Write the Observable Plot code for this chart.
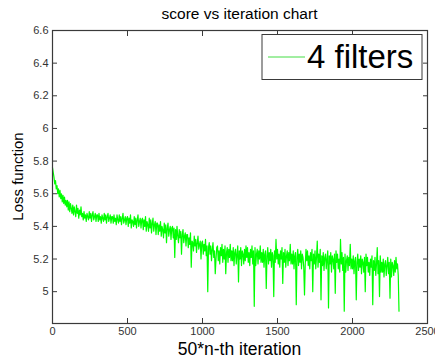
<!DOCTYPE html>
<html>
<head>
<meta charset="utf-8">
<script src="https://cdn.jsdelivr.net/npm/d3@7"></script>
<script src="https://cdn.jsdelivr.net/npm/@observablehq/plot@0.6"></script>
<style>
  html, body { margin: 0; padding: 0; background: #fff; }
  #chart { width: 435px; height: 363px; }
</style>
</head>
<body>
<div id="chart"></div>
<script>
// Loss values, one every 5 iterations
const lossValues = [
  5.76,5.73,5.70,5.66,5.68,5.63,5.65,5.60,5.63,5.58,5.62,5.57,5.60,5.55,5.59,5.54,5.58,5.53,5.56,5.52,
  5.56,5.50,5.55,5.49,5.54,5.51,5.48,5.53,5.47,5.52,5.49,5.46,5.53,5.48,5.51,5.45,5.50,5.47,5.52,5.46,
  5.48,5.44,5.49,5.45,5.47,5.43,5.48,5.46,5.44,5.49,5.45,5.48,5.43,5.47,5.49,5.44,5.46,5.48,5.43,5.47,
  5.47,5.43,5.48,5.44,5.46,5.42,5.47,5.45,5.43,5.48,5.44,5.47,5.42,5.46,5.48,5.43,5.45,5.47,5.42,5.46,
  5.46,5.42,5.47,5.43,5.45,5.41,5.47,5.44,5.42,5.47,5.43,5.46,5.41,5.45,5.48,5.42,5.44,5.46,5.41,5.45,
  5.46,5.40,5.45,5.42,5.47,5.39,5.44,5.43,5.40,5.46,5.41,5.45,5.39,5.44,5.47,5.40,5.43,5.45,5.39,5.44,
  5.45,5.38,5.44,5.40,5.46,5.37,5.43,5.41,5.37,5.45,5.39,5.44,5.36,5.42,5.45,5.37,5.41,5.43,5.35,5.42,
  5.42,5.35,5.41,5.37,5.43,5.34,5.40,5.38,5.33,5.42,5.36,5.41,5.30,5.39,5.42,5.34,5.38,5.40,5.32,5.39,
  5.40,5.33,5.39,5.21,5.38,5.32,5.40,5.34,5.30,5.38,5.33,5.37,5.23,5.35,5.38,5.30,5.34,5.36,5.28,5.35,
  5.35,5.27,5.33,5.29,5.36,5.15,5.31,5.30,5.25,5.34,5.28,5.32,5.24,5.30,5.34,5.26,5.29,5.31,5.20,5.30,
  5.31,5.23,5.29,5.25,5.32,5.22,5.28,5.00,5.27,5.30,5.23,5.28,5.19,5.26,5.30,5.21,5.25,5.11,5.20,5.27,
  5.28,5.19,5.25,5.17,5.27,5.22,5.29,5.18,5.26,5.20,5.28,5.11,5.24,5.27,5.18,5.26,5.21,5.29,5.19,5.25,
  5.19,5.27,5.16,5.24,5.26,5.17,5.23,5.28,5.06,5.25,5.20,5.27,5.16,5.25,5.23,5.17,5.26,5.19,5.28,5.21,
  5.27,5.18,5.24,5.16,5.26,5.21,5.28,5.17,5.25,4.91,5.27,5.16,5.23,5.26,5.17,5.25,5.20,5.28,5.18,5.24,
  5.18,5.26,5.15,5.23,5.25,5.02,5.22,5.27,5.17,5.24,5.19,5.26,5.15,5.24,5.22,4.97,5.25,5.18,5.32,5.20,
  5.26,5.17,5.23,5.15,5.25,5.20,5.27,5.05,5.24,5.18,5.26,5.15,5.22,5.25,5.16,5.24,5.19,5.29,5.17,5.23,
  5.17,5.25,5.14,5.22,5.24,4.92,5.21,5.26,5.16,5.23,5.18,5.25,5.14,5.23,5.21,5.15,4.98,5.17,5.26,5.19,
  5.25,5.16,5.22,5.14,5.24,5.19,5.26,5.00,5.23,5.17,5.25,5.14,5.21,5.31,5.15,5.23,5.18,5.26,4.95,5.22,
  5.16,5.24,5.13,5.21,5.23,5.14,5.20,5.25,4.90,5.22,5.17,5.24,5.12,5.22,5.20,5.14,5.23,4.99,5.25,5.18,
  5.23,5.14,5.20,5.12,5.32,5.17,5.24,5.13,5.21,4.88,5.23,5.12,5.19,5.22,5.13,5.21,5.16,5.29,5.14,5.20,
  5.14,5.22,5.11,5.19,5.21,4.95,5.18,5.23,5.13,5.20,5.15,5.22,5.11,5.20,5.18,5.12,5.21,5.00,5.23,5.16,
  5.21,5.12,5.18,5.10,5.20,5.15,5.22,4.92,5.19,5.13,5.21,5.10,5.17,5.27,5.11,5.19,4.97,5.22,5.12,5.18,
  5.12,5.20,5.09,5.17,5.19,5.10,5.16,5.21,5.11,5.18,4.96,5.20,5.09,5.18,5.16,5.10,5.19,5.12,5.21,5.14,
  5.17,5.10,4.88
];
const iterationStep = 5;
const xTicks = [0, 500, 1000, 1500, 2000, 2500];
const yTicks = [5, 5.2, 5.4, 5.6, 5.8, 6, 6.2, 6.4, 6.6];
const xDomain = [0, 2500];
const yDomain = [4.805, 6.6];
const seriesName = "4 filters";
const titleText = "score vs iteration chart";
const xLabel = "50*n-th iteration";
const yLabel = "Loss function";

const data = lossValues.map((v, i) => ({iter: i * iterationStep, loss: v}));

const W = 435, H = 363;
const mL = 52, mR = 8, mT = 30, mB = 40;
const font = "'Liberation Sans', Arial, Helvetica, sans-serif";
const axisColor = "#3a3a3a";
const green = "#00ff00";

const plot = Plot.plot({
  width: W, height: H,
  marginLeft: mL, marginRight: mR, marginTop: mT, marginBottom: mB,
  style: {fontFamily: font, fontSize: "11px", background: "#fff", color: "#333"},
  x: {domain: xDomain, label: null},
  y: {domain: yDomain, label: null},
  marks: [
    Plot.line(data, {x: "iter", y: "loss", stroke: green, strokeWidth: 1.2}),
    Plot.frame({stroke: axisColor, strokeWidth: 1.2}),
    Plot.axisX({anchor: "bottom", ticks: xTicks, tickSize: -5, tickPadding: 9, stroke: axisColor, fill: "#333", label: null, tickFormat: d => String(d)}),
    Plot.axisX({anchor: "top", ticks: xTicks, tickSize: -5, stroke: axisColor, label: null, tickFormat: () => ""}),
    Plot.axisY({anchor: "left", ticks: yTicks, tickSize: -5, tickPadding: 9, stroke: axisColor, fill: "#333", label: null, tickFormat: d => String(d)}),
    Plot.axisY({anchor: "right", ticks: yTicks, tickSize: -5, stroke: axisColor, label: null, tickFormat: () => ""})
  ]
});

const svg = d3.select(plot);
const cx = (mL + (W - mR)) / 2;
const cy = (mT + (H - mB)) / 2;

svg.append("text")
  .attr("x", cx).attr("y", 19)
  .attr("text-anchor", "middle")
  .style("font-family", font).style("font-size", "15.5px").attr("fill", "#000")
  .text(titleText);

svg.append("text")
  .attr("x", cx).attr("y", 355)
  .attr("text-anchor", "middle")
  .style("font-family", font).style("font-size", "17.5px").attr("fill", "#000")
  .text(xLabel);

svg.append("text")
  .attr("transform", `translate(23,${cy}) rotate(-90)`)
  .attr("text-anchor", "middle")
  .style("font-family", font).style("font-size", "15px").attr("fill", "#000")
  .text(yLabel);

// legend
const lg = svg.append("g");
lg.append("rect").attr("x", 262).attr("y", 34.5).attr("width", 160).attr("height", 45)
  .attr("fill", "#fff").attr("stroke", axisColor).attr("stroke-width", 1);
lg.append("line").attr("x1", 268).attr("x2", 305).attr("y1", 57).attr("y2", 57)
  .attr("stroke", "#44dd44").attr("stroke-width", 1);
lg.append("text").attr("x", 307).attr("y", 68)
  .attr("text-anchor", "start")
  .style("font-family", font).style("font-size", "33px").attr("fill", "#000")
  .text(seriesName);

document.getElementById("chart").appendChild(plot);
</script>
</body>
</html>
